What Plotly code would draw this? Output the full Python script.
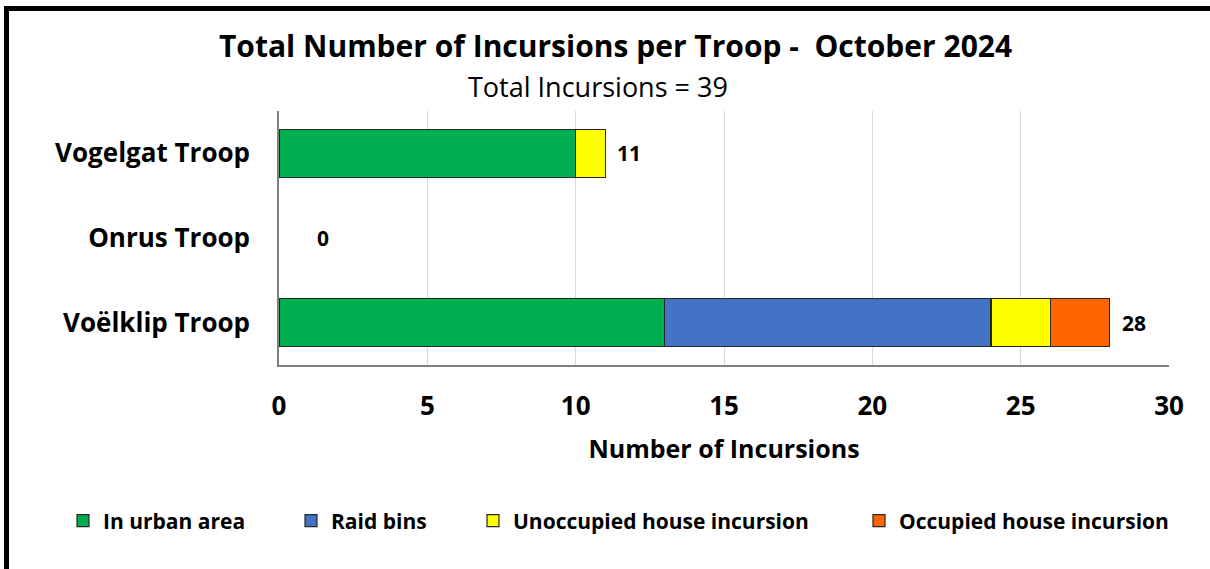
import plotly.graph_objects as go

troops = ["Vogelgat Troop", "Onrus Troop", "Voëlklip Troop"]
series_names = ["In urban area", "Raid bins", "Unoccupied house incursion", "Occupied house incursion"]
urban = [10, 0, 13]
raid = [0, 0, 11]
unoccupied = [1, 0, 2]
occupied = [0, 0, 2]
series_values = [urban, raid, unoccupied, occupied]
colors = ["#00B050", "#4472C4", "#FFFF00", "#FF6600"]
x_ticks = [0, 5, 10, 15, 20, 25, 30]
title_text = "Total Number of Incursions per Troop -  October 2024"
totals = [sum(v) for v in zip(*series_values)]
subtitle_text = "Total Incursions = " + str(sum(totals))

FONT = "'Open Sans', 'Noto Sans', sans-serif"

W, H = 1210, 569
L, R, T, B = 279, 41, 111, 204
PW, PH = W - L - R, H - T - B

def px_x(px):
    return (px - L) / PW

def px_y(py):
    return (H - B - py) / PH

fig = go.Figure()
legend_ids = ["legend", "legend2", "legend3", "legend4"]
legend_px = [77, 305, 487, 873]
for name, vals, col, lg in zip(series_names, series_values, colors, legend_ids):
    fig.add_trace(go.Bar(
        y=troops, x=[v if v else None for v in vals], name=name, orientation="h",
        marker=dict(color=col, line=dict(color="#262626", width=1.2)),
        legend=lg, hoverinfo="x+name",
    ))

annotations = []
for troop, tot in zip(troops, totals):
    annotations.append(dict(
        x=tot, y=troop, xref="x", yref="y", text="<b>%d</b>" % tot,
        showarrow=False, xanchor="left", yanchor="middle",
        xshift=36 if tot == 0 else 10,
        font=dict(family=FONT, size=21, color="#000000"),
    ))
annotations.append(dict(
    x=px_x(615), y=px_y(45), xref="paper", yref="paper", text="<b>" + title_text + "</b>",
    showarrow=False, xanchor="center", yanchor="middle",
    font=dict(family=FONT, size=30, color="#000000"),
))
annotations.append(dict(
    x=px_x(598), y=px_y(87), xref="paper", yref="paper", text=subtitle_text,
    showarrow=False, xanchor="center", yanchor="middle",
    font=dict(family=FONT, size=27, color="#000000"),
))

shapes = [
    dict(type="line", xref="paper", yref="paper", x0=px_x(4), x1=px_x(W), y0=px_y(8.5), y1=px_y(8.5),
         line=dict(color="#000000", width=5)),
    dict(type="line", xref="paper", yref="paper", x0=px_x(6.5), x1=px_x(6.5), y0=px_y(6), y1=px_y(H),
         line=dict(color="#000000", width=5)),
]

legend_common = dict(orientation="h", yanchor="middle", xanchor="left", bgcolor="rgba(0,0,0,0)",
                     font=dict(family=FONT, size=21, color="#000000", weight="bold"), borderwidth=0)
layout_legends = {}
for lg, lx in zip(legend_ids, legend_px):
    layout_legends[lg] = dict(legend_common, x=px_x(lx - 14), y=px_y(521))

fig.update_layout(
    width=W, height=H,
    margin=dict(l=L, r=R, t=T, b=B, pad=0),
    barmode="stack", bargap=0.43,
    paper_bgcolor="#FFFFFF", plot_bgcolor="#FFFFFF",
    font=dict(family=FONT, color="#000000"),
    showlegend=True,
    annotations=annotations, shapes=shapes,
    xaxis=dict(
        range=[0, 30], tickvals=x_ticks, ticktext=["<b>%d</b>" % v for v in x_ticks],
        showgrid=True, gridcolor="#D9D9D9", gridwidth=1,
        showline=True, linecolor="#7F7F7F", linewidth=1.5,
        zeroline=False, ticks="", ticklabelstandoff=17,
        tickfont=dict(family=FONT, size=26, color="#000000"),
        title=dict(text="<b>Number of Incursions</b>", standoff=19,
                   font=dict(family=FONT, size=25, color="#000000")),
        fixedrange=True,
    ),
    yaxis=dict(
        categoryorder="array", categoryarray=troops, autorange="reversed",
        showline=True, linecolor="#7F7F7F", linewidth=1.5, showgrid=False,
        ticks="", ticklabelstandoff=22,
        tickvals=troops, ticktext=["<b>%s</b>" % t for t in troops],
        tickfont=dict(family=FONT, size=26, color="#000000"),
        fixedrange=True,
    ),
    **layout_legends,
)

fig.write_html("out.html", config={"displayModeBar": False},
               post_script="document.body.style.margin='0px';")
